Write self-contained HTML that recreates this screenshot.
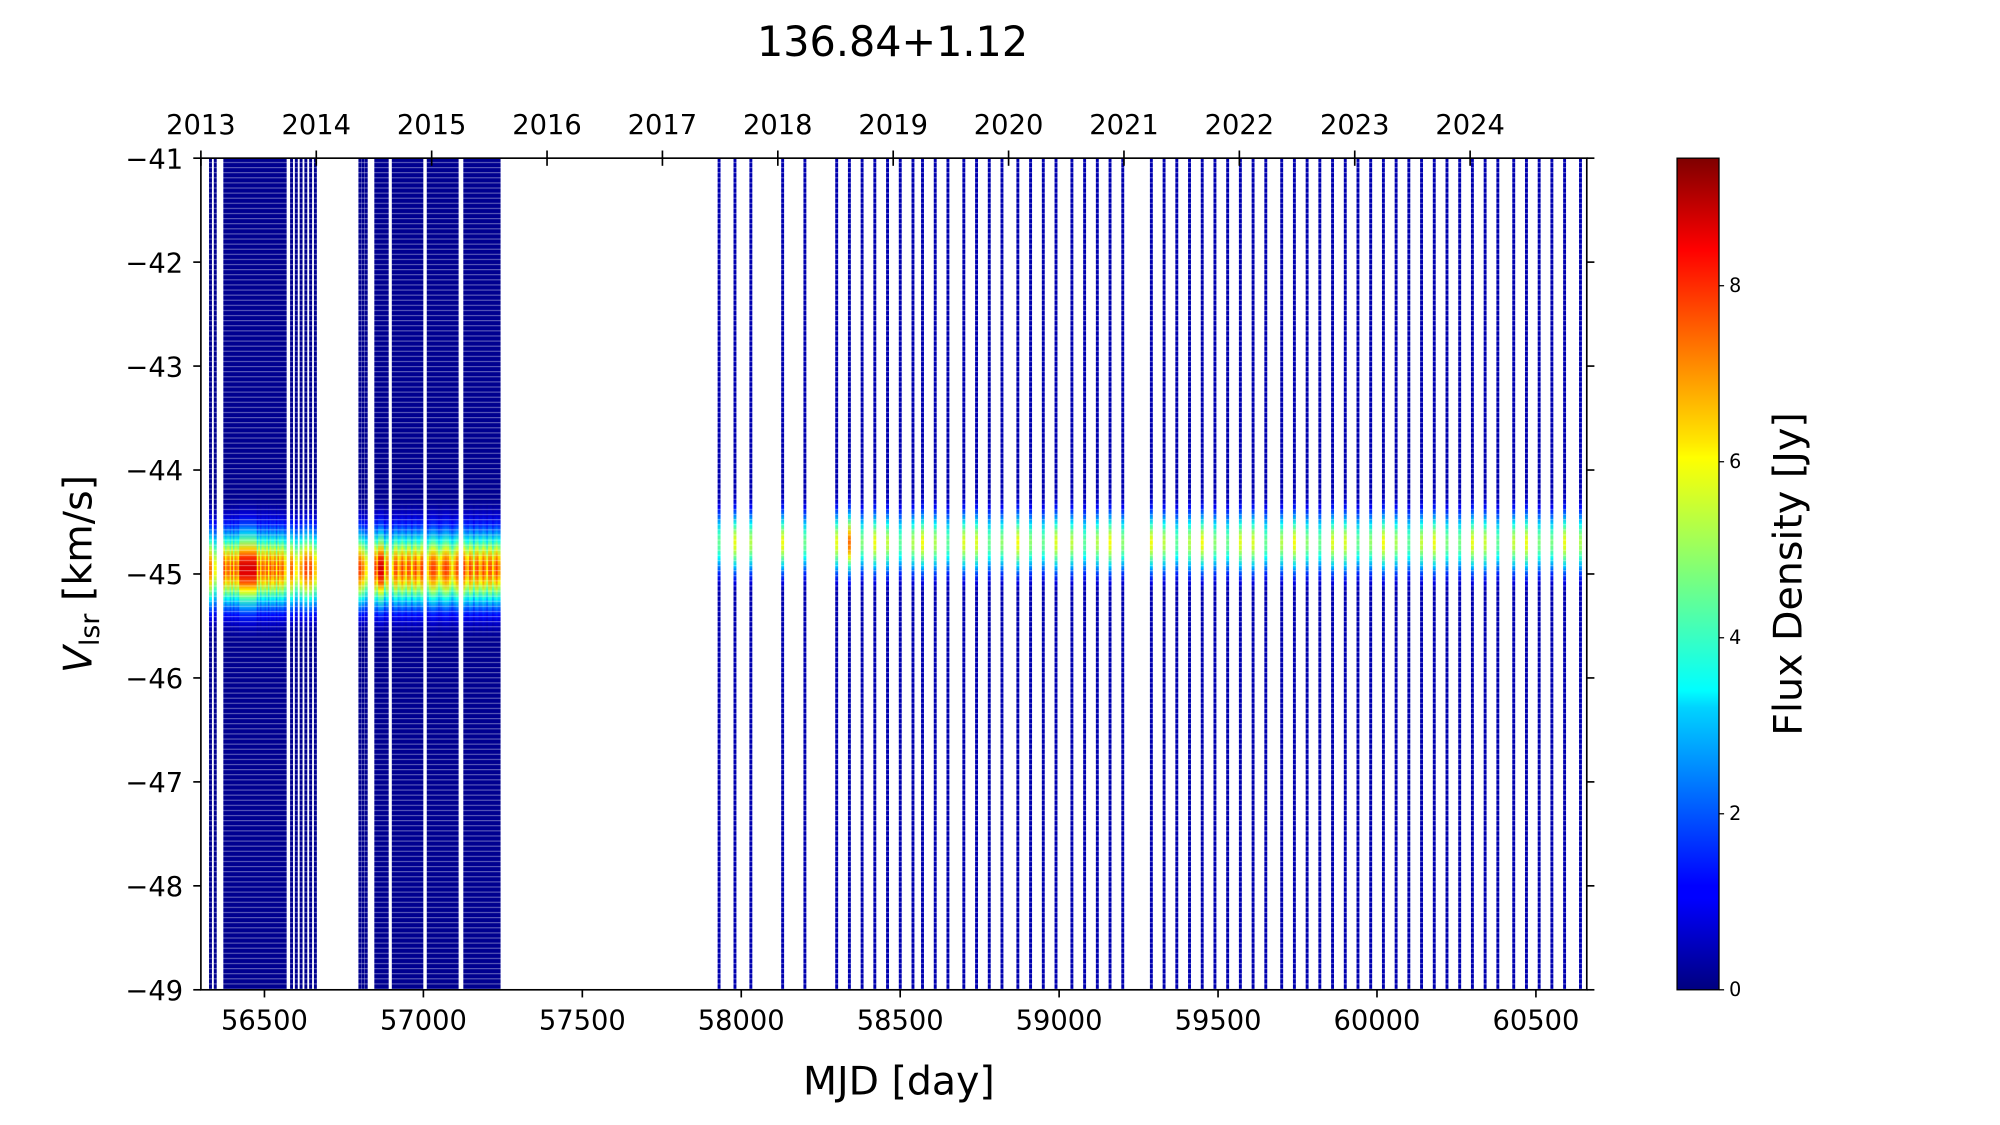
<!DOCTYPE html>
<html><head><meta charset="utf-8"><style>
html,body{margin:0;padding:0;background:#fff}
svg{display:block}
text{font-family:"DejaVu Sans","Liberation Sans",sans-serif;fill:#000}
</style></head><body>
<svg id="s" width="2000" height="1125" viewBox="0 0 1573 882" preserveAspectRatio="none" xmlns="http://www.w3.org/2000/svg">
<defs id="defs">
<linearGradient id="cb" x1="0" y1="1" x2="0" y2="0">
<stop offset="0" stop-color="#00007f"/><stop offset="0.11" stop-color="#0000ff"/><stop offset="0.125" stop-color="#0000ff"/><stop offset="0.34" stop-color="#00d4ff"/><stop offset="0.36" stop-color="#0ff"/><stop offset="0.5" stop-color="#7dff7a"/><stop offset="0.64" stop-color="#ff0"/><stop offset="0.66" stop-color="#ffe600"/><stop offset="0.89" stop-color="#ff0000"/><stop offset="1" stop-color="#7f0000"/>
</linearGradient>
<pattern id="dots" width="4" height="4" patternUnits="userSpaceOnUse"><rect x="0" y="3" width="4" height="0.8" fill="#fff" fill-opacity="0.4"/></pattern>
</defs>
<g id="cols"></g>
<rect x="158" y="124" width="1090" height="652" fill="none" stroke="#000" stroke-width="1.3"/>
<g id="ticks" stroke="#000" stroke-width="1.3"></g>
<g id="labels" font-size="21.5"></g>
<text x="702" y="44" font-size="32.5" text-anchor="middle">136.84+1.12</text>
<text x="707" y="858" font-size="31" text-anchor="middle">MJD [day]</text>
<text transform="translate(72,450) rotate(-90)" font-size="31" text-anchor="middle"><tspan font-style="italic">V</tspan><tspan font-size="21" dy="6">lsr</tspan><tspan dy="-6"> [km/s]</tspan></text>
<rect x="1319" y="124" width="33" height="652" fill="url(#cb)" stroke="#000" stroke-width="1"/>
<g id="cbt" font-size="15"></g>
<text transform="translate(1417,450) rotate(-90)" font-size="31" text-anchor="middle">Flux Density [Jy]</text>
</svg>
<script>
const NS="http://www.w3.org/2000/svg";
function el(t,a,p){const e=document.createElementNS(NS,t);for(const k in a)e.setAttribute(k,a[k]);p.appendChild(e);return e;}
function jet(v){let x=Math.max(0,Math.min(1,v/9.45));
 const r=Math.max(0,Math.min(1,1.5-Math.abs(4*x-3))),g=Math.max(0,Math.min(1,1.5-Math.abs(4*x-2))),b=Math.max(0,Math.min(1,1.5-Math.abs(4*x-1)));
 return `rgb(${Math.round(r*255)},${Math.round(g*255)},${Math.round(b*255)})`;}
const X=m=>208+(m-56500)*0.25, Y=v=>124+(-41-v)*81.5;
const defs=document.getElementById('defs'),cols=document.getElementById('cols');
let mjds=[];
[56330,56345].forEach(m=>mjds.push([m,0]));
for(let m=56375;m<=56565;m+=5)mjds.push([m,0]);
[56585,56600,56615,56630,56645,56660].forEach(m=>mjds.push([m,0]));
[56800,56810,56820].forEach(m=>mjds.push([m,0]));
for(let m=56850;m<=56890;m+=6)mjds.push([m,0]);
for(let m=56905;m<=57000;m+=6)mjds.push([m,0]);
for(let m=57015;m<=57110;m+=7)mjds.push([m,0]);
for(let m=57130;m<=57240;m+=6)mjds.push([m,0]);
let late=[57930,57980,58030,58130,58200,58300,58340,58380,58420,58460,58500,58540,58570,58610,58650,58700,58740,58780,58820,58870,58910,58950,58990,59040,59080,59120,59160,59200,59290,59330,59370,59410,59450,59490,59530,59570,59610,59650,59700,59740,59780,59820,59860,59900,59940,59980,60020,60060,60100,60140,60180,60220,60260,60300,60340,60380,60430,60470,60510,60550,60590,60640];
late.forEach(m=>mjds.push([m,1]));
mjds.forEach(([m,t],i)=>{
 let g=el('linearGradient',{id:'g'+i,x1:0,y1:0,x2:0,y2:1},defs);
 let peak=t?-44.7:-44.95, amp, sig=t?0.2:0.24, base=t?0.45:0.15;
 if(t){amp=5.2+Math.sin(m*1.3)*0.7; if(m>58330&&m<58350)amp=7.3;}
 else{amp=5.8+2*Math.abs(Math.sin(m*0.37)); if((m>56420&&m<56480)||(m>56860&&m<56880))amp=8.7;}
 for(let k=0;k<=100;k++){let v=-41-8*k/100;let f=Math.exp(-0.5*((v-peak)/sig)**2)*amp;f=Math.max(f,base);
  el('stop',{offset:k/100,'stop-color':jet(f)},g);}
 el('rect',{x:X(m)-1.1,y:124,width:2.3,height:652,fill:`url(#g${i})`},cols);
});
el('rect',{x:157,y:124,width:1091,height:652,fill:'url(#dots)'},cols);
const tk=document.getElementById('ticks'),lb=document.getElementById('labels');
for(let m=56500;m<=60500;m+=500){el('line',{x1:X(m),y1:776,x2:X(m),y2:782},tk);let e=el('text',{x:X(m),y:807,'text-anchor':'middle'},lb);e.textContent=m;}
for(let v=-41;v>=-49;v--){let y=Y(v);el('line',{x1:152,y1:y,x2:158,y2:y},tk);el('line',{x1:1248,y1:y,x2:1254,y2:y},tk);
 let e=el('text',{x:144,y:y+8,'text-anchor':'end'},lb);e.textContent='\u2212'+(-v);}
for(let yr=2013;yr<=2024;yr++){let x=158+(yr-2013)*90.75;el('line',{x1:x,y1:118,x2:x,y2:130},tk);let e=el('text',{x:x,y:105,'text-anchor':'middle'},lb);e.textContent=yr;}
const cbt=document.getElementById('cbt');
for(let v=0;v<=8;v+=2){let y=776-v*69;el('line',{x1:1352,y1:y,x2:1356,y2:y,stroke:'#000'},cbt);let e=el('text',{x:1360,y:y+5},cbt);e.textContent=v;}
</script>
</body></html>
